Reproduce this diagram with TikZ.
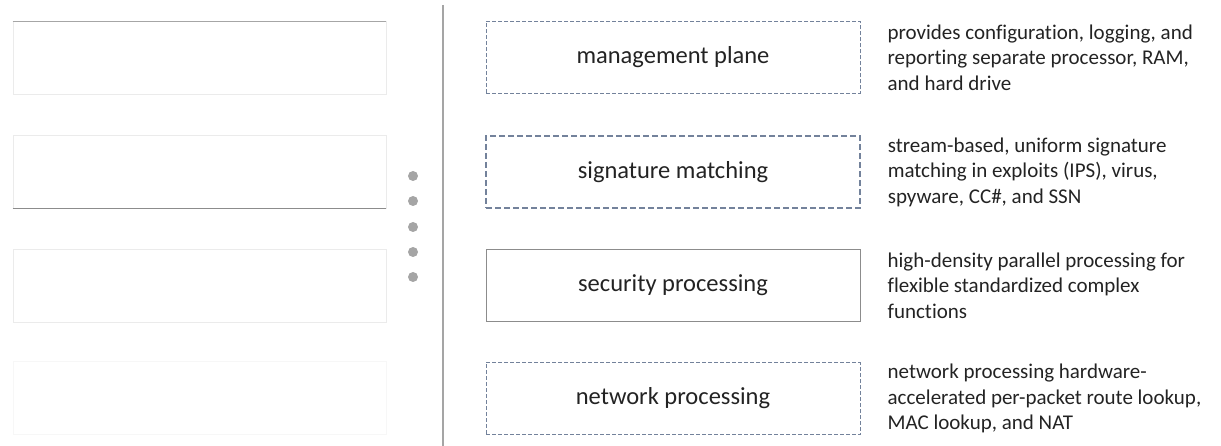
\documentclass[tikz,border=0pt]{standalone}
\usepackage{fontspec}
\setmainfont{Carlito}[Ligatures={NoCommon}]
\usetikzlibrary{positioning}
\definecolor{paneedge}{RGB}{115,130,155}
\definecolor{dotgray}{RGB}{165,165,165}
\definecolor{inkgray}{RGB}{35,35,35}

\begin{document}
\begin{tikzpicture}[x=1pt, y=1pt,
  pane/.style={draw=paneedge, line width=0.9pt, dash pattern=on 4pt off 2pt,
    minimum width=374pt, minimum height=72pt, text=inkgray,
    font=\fontsize{24.5}{28}\selectfont},
  note/.style={inner sep=0pt, align=left, text=inkgray,
    font=\fontsize{21}{25.5}\selectfont},
  slot/.style={draw=black!8, line width=0.8pt, minimum width=373pt, minimum height=73pt}]
  \useasboundingbox (0,0) rectangle (1221,-446);

  % empty answer slots on the left
  \node[slot] (slotA) at (199.5,-58) {};
  \node[slot, below of=slotA, node distance=114pt] (slotB) {};
  \node[slot, below of=slotB, node distance=114pt] (slotC) {};
  \node[slot, draw=black!3, below of=slotC, node distance=112pt] (slotD) {};
  \draw[black!35, line width=0.9pt] (slotA.north west) -- (slotA.north east);
  \draw[black!45, line width=0.9pt] (slotB.south west) -- (slotB.south east);

  % drag handle and divider
  \foreach \y in {176,201,227,252,277}
    \fill[dotgray] (413,-\y) circle (5pt);
  \coordinate (divtop) at (443,-5);
  \coordinate (divbot) at (443,-446);
  \draw[dotgray, line width=1.5pt] (divtop) -- (divbot);

  % the planes
  \node[pane] (mgmt) at (673,-57.5) {management plane};
  \node[pane, line width=1.2pt, dash pattern=on 6pt off 3pt, below of=mgmt, node distance=114.5pt] (sigm) {signature matching};
  \node[pane, draw=black!45, solid, below of=sigm, node distance=113.5pt] (secp) {security processing};
  \node[pane, below of=secp, node distance=113pt] (netp) {network processing};

  % descriptions
  \node[note, right=27pt of mgmt] (mgmtnote) {provides configuration, logging, and\\reporting separate processor, RAM,\\and hard drive};
  \node[note, right=27pt of sigm] (sigmnote) {stream-based, uniform signature\\matching in exploits (IPS), virus,\\spyware, CC\#, and SSN};
  \node[note, right=27pt of secp] (secpnote) {high-density parallel processing for\\flexible standardized complex\\functions};
  \node[note, right=27pt of netp] (netpnote) {network processing hardware-\\accelerated per-packet route lookup,\\MAC lookup, and NAT};
\end{tikzpicture}
\end{document}
